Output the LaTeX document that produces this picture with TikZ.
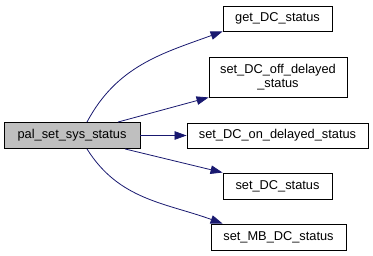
\documentclass[tikz,border=0pt]{standalone}
\usepackage{fontspec}
\setmainfont{Liberation Sans}
\usetikzlibrary{arrows.meta}
\definecolor{edgec}{HTML}{191970}
\definecolor{callerc}{HTML}{BFBFBF}

\begin{document}
\begin{tikzpicture}[x=1pt, y=1pt, font=\fontsize{12.8}{14.5}\selectfont,
  >={Triangle[length=12pt, width=8.5pt]},
  fn/.style={draw=black, line width=0.9pt, fill=#1, align=center, minimum height=25pt, inner sep=2pt},
  fn/.default=white,
  call/.style={->, line width=0.8pt, draw=edgec}]
\useasboundingbox (0,0) rectangle (373,256);
% -- caller
\node[fn=callerc, minimum width=136pt, minimum height=26pt] (pal) at (72,120.5) {pal\_set\_sys\_status};
% -- callees, one column
\node[fn, minimum width=109pt] (getdc) at (277.5,237.5) {get\_DC\_status};
\node[fn, minimum width=138pt, minimum height=40pt] (offdc) at (278,179) {set\_DC\_off\_delayed\\\_status};
\node[fn, minimum width=181pt] (ondc) at (277.5,120.5) {set\_DC\_on\_delayed\_status};
\node[fn, minimum width=109pt, minimum height=26pt] (setdc) at (277.5,70) {set\_DC\_status};
\node[fn, minimum width=135pt, minimum height=26pt] (setmb) at (278.5,19) {set\_MB\_DC\_status};
% -- calls
\draw[call] ([xshift=15pt]pal.north) to[out=62, in=200] (getdc.south west);
\draw[call] ([xshift=46pt]pal.north) -- (offdc.south west);
\draw[call] (pal) -- (ondc);
\draw[call] ([xshift=53pt]pal.south) -- (setdc.north west);
\draw[call] ([xshift=15pt]pal.south) to[out=-58, in=160] ([xshift=12pt]setmb.north west);
\end{tikzpicture}
\end{document}
